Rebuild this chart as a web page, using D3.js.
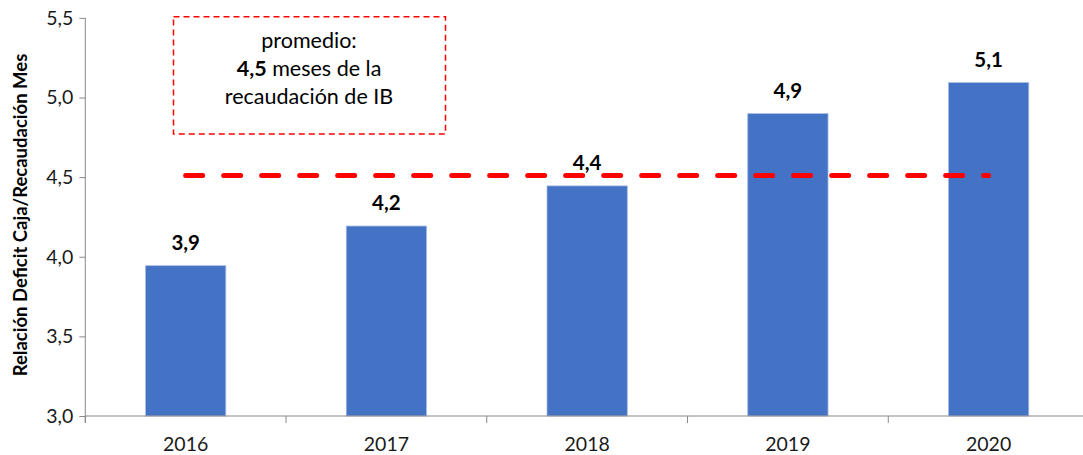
<!DOCTYPE html>
<html><head><meta charset="utf-8">
<script src="https://cdn.jsdelivr.net/npm/d3@7"></script>
<style>
html,body{margin:0;padding:0;background:#fff;}
svg{display:block;font-family:Lato, "Open Sans", sans-serif;}
</style></head>
<body>
<svg id="chart" width="1083" height="455"></svg>
<script>
const years = ["2016","2017","2018","2019","2020"];
const values = [3.944, 4.193, 4.445, 4.899, 5.094];
const average = 4.51;
const yTicks = [3.0, 3.5, 4.0, 4.5, 5.0, 5.5];
const yTitle = "Relación Deficit Caja/Recaudación Mes";
const noteLines = ["promedio:", "meses de la", "recaudación de IB"];
const noteBold = "4,5";

const svg = d3.select("#chart");
const x = d3.scaleBand().domain(years).range([85.3, 1089]).paddingInner(0.6).paddingOuter(0.3);
const y = d3.scaleLinear().domain([3, 5.5]).range([416, 17.9]);
const comma = v => d3.format(".1f")(v).replace(".", ",");
const axisColor = "#898989";

// bars
svg.append("g").selectAll("rect").data(values).join("rect")
  .attr("x", (d,i) => x(years[i]))
  .attr("width", x.bandwidth())
  .attr("y", d => y(d))
  .attr("height", d => y(3) - y(d))
  .attr("fill", "#4472C4")
  .attr("stroke", "#A7BCE4").attr("stroke-width", 0.8);

// y axis
const yAxis = svg.append("g").attr("transform", "translate(85.3,0)")
  .call(d3.axisLeft(y).tickValues(yTicks).tickSize(6).tickSizeOuter(0).tickFormat(comma));
yAxis.select(".domain").attr("stroke", axisColor).attr("d", `M0,${y(5.5)}V423`);
yAxis.selectAll(".tick line").attr("stroke", axisColor);
yAxis.selectAll(".tick text").attr("x", -12).attr("font-size", 19.5).attr("fill", "#1a1a1a").attr("font-family", "Lato, sans-serif");

// x axis
const step = x.step();
const boundaries = years.map((d,i) => 85.3 + i*step);
const xg = svg.append("g");
xg.append("line").attr("x1", 85.3).attr("x2", 1089).attr("y1", 416).attr("y2", 416).attr("stroke", axisColor);
xg.selectAll("line.t").data(boundaries).join("line").attr("class","t")
  .attr("x1", d=>d).attr("x2", d=>d).attr("y1", 416).attr("y2", 423).attr("stroke", axisColor);
xg.selectAll("text").data(years).join("text")
  .attr("x", d => x(d) + x.bandwidth()/2).attr("y", 451)
  .attr("text-anchor", "middle").attr("font-size", 19.5).attr("fill", "#1a1a1a").text(d => d);

// y title
svg.append("text").attr("transform", "translate(26.5,215) rotate(-90)")
  .attr("text-anchor", "middle").attr("font-size", 18.5).attr("font-weight", "bold").attr("fill", "#000")
  .text(yTitle);

// bar labels
svg.append("g").selectAll("text").data(values).join("text")
  .attr("x", (d,i) => x(years[i]) + x.bandwidth()/2)
  .attr("y", d => y(d) - 16)
  .attr("text-anchor", "middle").attr("font-size", 20.5).attr("font-weight", "bold").attr("fill", "#000")
  .text(d => comma(d));

// average line
svg.append("line")
  .attr("x1", x(years[0]) + x.bandwidth()/2).attr("x2", x(years[4]) + x.bandwidth()/2)
  .attr("y1", y(average)).attr("y2", y(average))
  .attr("stroke", "#FF0000").attr("stroke-width", 5).attr("stroke-linecap", "round")
  .attr("stroke-dasharray", "17 21");

// annotation box
svg.append("rect").attr("x", 173.5).attr("y", 16.8).attr("width", 272).attr("height", 117.3)
  .attr("fill", "none").attr("stroke", "#FF0000").attr("stroke-width", 1.5).attr("stroke-dasharray", "6 4");
const note = svg.append("g").attr("font-size", 21.5).attr("fill", "#000").attr("text-anchor", "middle");
note.append("text").attr("x", 309).attr("y", 48).text(noteLines[0]);
const t2 = note.append("text").attr("x", 309).attr("y", 76);
t2.append("tspan").attr("font-weight", "bold").text(noteBold);
t2.append("tspan").text(" " + noteLines[1]);
note.append("text").attr("x", 309).attr("y", 103.5).text(noteLines[2]);
</script>
</body></html>
